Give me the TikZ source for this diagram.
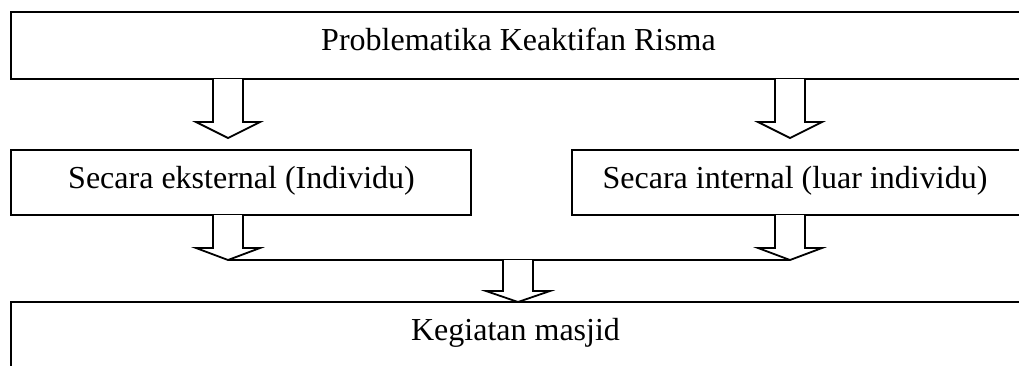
\documentclass[tikz,border=0pt]{standalone}
\usepackage{fontspec}
\setmainfont{Liberation Serif}
\usetikzlibrary{calc}
\tikzset{
  box/.style={draw, line width=1.8pt, rectangle, inner sep=0pt, outer sep=0pt},
  lbl/.style={anchor=base, inner sep=0pt, font=\fontsize{32}{38}\selectfont},
  barrow/.style={draw, line width=1.8pt, line join=miter, fill=white},
  conn/.style={draw, line width=1.8pt}
}
\newcommand{\blockarr}[3]{%
  \draw[barrow] ($(#1)+(-15,0)$) -- ($(#2)+(-15,-#3)$) -- ($(#2)+(-32,-#3)$) -- (#2) -- ($(#2)+(32,-#3)$) -- ($(#2)+(15,-#3)$) -- ($(#1)+(15,0)$);}
\begin{document}
\begin{tikzpicture}[x=1pt,y=-1pt]
\useasboundingbox (0,0) rectangle (1019,365);
\clip (0,0) rectangle (1019,365);
% boxes
\node[box, minimum width=1015pt, minimum height=67pt] (top) at (518.5,45.5) {};
\node[box, minimum width=460pt, minimum height=65pt] (lb) at (241,182.5) {};
\node[box, minimum width=450pt, minimum height=65pt] (rb) at (797,182.5) {};
\node[box, minimum width=1015pt, minimum height=118pt] (bot) at (518.5,361) {};
% texts
\node[lbl] (t1) at (518.5,50) {Problematika Keaktifan Risma};
\node[lbl] (t2) at (241.5,188) {Secara eksternal (Individu)};
\node[lbl] (t3) at (795,188) {Secara internal (luar individu)};
\node[lbl] (t4) at (515.5,340) {Kegiatan masjid};
% arrow anchor coordinates
\coordinate (a1s) at ($(top.south west)+(217,0)$);
\coordinate (a1t) at ($(lb.north west)+(217,-12)$);
\coordinate (a2s) at ($(top.south west)+(779,0)$);
\coordinate (a2t) at ($(rb.north west)+(218,-12)$);
\coordinate (a3s) at ($(lb.south west)+(217,0)$);
\coordinate (a3t) at ($(lb.south west)+(217,45)$);
\coordinate (a4s) at ($(rb.south west)+(218,0)$);
\coordinate (a4t) at ($(rb.south west)+(218,45)$);
\coordinate (a5s) at ($(a3t)!0.516!(a4t)$);
\coordinate (a5t) at (bot.north -| a5s);
% arrows
\blockarr{a1s}{a1t}{16}
\blockarr{a2s}{a2t}{16}
\blockarr{a3s}{a3t}{12}
\blockarr{a4s}{a4t}{12}
\draw[conn] (a3t) -- (a4t);
\blockarr{a5s}{a5t}{11}
\end{tikzpicture}
\end{document}
